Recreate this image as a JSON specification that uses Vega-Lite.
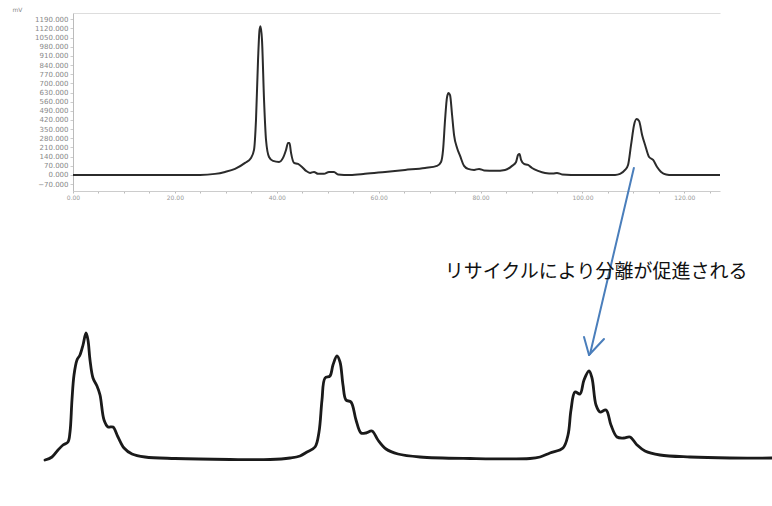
{
  "$schema": "https://vega.github.io/schema/vega-lite/v6.json",
  "width": 647,
  "height": 178,
  "autosize": {"type": "none"},
  "padding": {"left": 73, "top": 13, "right": 52, "bottom": 315},
  "background": "white",
  "config": {"view": {"stroke": null}, "font": "DejaVu Sans", "axis": {"labelOverlap": false}},
  "datasets": {
    "top": [
      {"t": 0, "mV": 0}, {"t": 24.93, "mV": 0}, {"t": 27.88, "mV": 8}, {"t": 29.84, "mV": 23},
      {"t": 31.8, "mV": 46}, {"t": 33.77, "mV": 92}, {"t": 34.94, "mV": 130}, {"t": 35.53, "mV": 191},
      {"t": 35.92, "mV": 420}, {"t": 36.32, "mV": 878}, {"t": 36.61, "mV": 1107}, {"t": 36.81, "mV": 1137},
      {"t": 37.1, "mV": 1031}, {"t": 37.5, "mV": 573}, {"t": 37.89, "mV": 267}, {"t": 38.48, "mV": 137},
      {"t": 39.26, "mV": 107}, {"t": 40.44, "mV": 99}, {"t": 41.22, "mV": 130}, {"t": 41.81, "mV": 191},
      {"t": 42.21, "mV": 244}, {"t": 42.5, "mV": 244}, {"t": 42.8, "mV": 168}, {"t": 43.39, "mV": 92},
      {"t": 44.17, "mV": 84}, {"t": 44.96, "mV": 61}, {"t": 45.74, "mV": 31}, {"t": 46.53, "mV": 15},
      {"t": 47.31, "mV": 23}, {"t": 48.1, "mV": 8}, {"t": 49.27, "mV": 8}, {"t": 50.25, "mV": 23},
      {"t": 51.24, "mV": 23}, {"t": 52.02, "mV": 4}, {"t": 54.38, "mV": 0}, {"t": 57.32, "mV": 8},
      {"t": 61.25, "mV": 23}, {"t": 65.18, "mV": 38}, {"t": 69.1, "mV": 53}, {"t": 71.46, "mV": 69},
      {"t": 72.24, "mV": 99}, {"t": 72.64, "mV": 191}, {"t": 73.03, "mV": 420}, {"t": 73.42, "mV": 595},
      {"t": 73.72, "mV": 626}, {"t": 74.01, "mV": 611}, {"t": 74.41, "mV": 458}, {"t": 74.8, "mV": 305},
      {"t": 75.39, "mV": 206}, {"t": 75.98, "mV": 145}, {"t": 76.76, "mV": 69}, {"t": 77.55, "mV": 46},
      {"t": 78.73, "mV": 38}, {"t": 79.71, "mV": 46}, {"t": 80.69, "mV": 34}, {"t": 82.85, "mV": 31},
      {"t": 84.81, "mV": 38}, {"t": 86.18, "mV": 69}, {"t": 86.97, "mV": 99}, {"t": 87.36, "mV": 153},
      {"t": 87.65, "mV": 160}, {"t": 87.95, "mV": 115}, {"t": 88.53, "mV": 84}, {"t": 89.32, "mV": 76},
      {"t": 90.1, "mV": 53}, {"t": 91.28, "mV": 31}, {"t": 92.66, "mV": 15}, {"t": 94.23, "mV": 11},
      {"t": 95.01, "mV": 15}, {"t": 96.0, "mV": 4}, {"t": 99.53, "mV": 0}, {"t": 106.4, "mV": 0},
      {"t": 107.38, "mV": 8}, {"t": 108.36, "mV": 38}, {"t": 108.95, "mV": 76}, {"t": 109.54, "mV": 229},
      {"t": 110.13, "mV": 382}, {"t": 110.62, "mV": 427}, {"t": 111.12, "mV": 412}, {"t": 111.71, "mV": 305},
      {"t": 112.3, "mV": 229}, {"t": 113.08, "mV": 137}, {"t": 113.87, "mV": 115}, {"t": 114.65, "mV": 61},
      {"t": 115.44, "mV": 23}, {"t": 116.42, "mV": 4}, {"t": 117.6, "mV": 0}, {"t": 127, "mV": 0}
    ],
    "bottom": [
      {"t": 0, "v": 0}, {"t": 0.96, "v": 3}, {"t": 1.79, "v": 10}, {"t": 2.48, "v": 15},
      {"t": 3.16, "v": 18}, {"t": 3.44, "v": 28}, {"t": 3.71, "v": 60}, {"t": 3.99, "v": 85},
      {"t": 4.4, "v": 100}, {"t": 4.81, "v": 105}, {"t": 5.23, "v": 115}, {"t": 5.64, "v": 127},
      {"t": 5.91, "v": 120}, {"t": 6.19, "v": 100}, {"t": 6.6, "v": 82}, {"t": 7.15, "v": 74},
      {"t": 7.57, "v": 65}, {"t": 8.12, "v": 40}, {"t": 8.67, "v": 33}, {"t": 9.35, "v": 33},
      {"t": 10.04, "v": 23}, {"t": 10.87, "v": 12}, {"t": 11.97, "v": 6}, {"t": 13.76, "v": 3},
      {"t": 17.88, "v": 1.5}, {"t": 25.45, "v": 0.5}, {"t": 30.95, "v": 0.5}, {"t": 33.7, "v": 2},
      {"t": 35.08, "v": 4}, {"t": 36.04, "v": 8}, {"t": 37.14, "v": 13}, {"t": 37.69, "v": 28},
      {"t": 38.1, "v": 60}, {"t": 38.52, "v": 82}, {"t": 39.2, "v": 84}, {"t": 39.61, "v": 95},
      {"t": 40.16, "v": 104}, {"t": 40.58, "v": 98}, {"t": 40.99, "v": 75}, {"t": 41.4, "v": 60},
      {"t": 42.09, "v": 58}, {"t": 42.78, "v": 40}, {"t": 43.47, "v": 27}, {"t": 44.15, "v": 27},
      {"t": 44.98, "v": 29}, {"t": 45.8, "v": 20}, {"t": 46.91, "v": 11}, {"t": 48.56, "v": 6},
      {"t": 51.58, "v": 3}, {"t": 58.46, "v": 1.5}, {"t": 66.71, "v": 1.5}, {"t": 68.09, "v": 3},
      {"t": 69.46, "v": 7}, {"t": 71.25, "v": 12}, {"t": 71.94, "v": 25}, {"t": 72.35, "v": 50},
      {"t": 72.9, "v": 68}, {"t": 73.59, "v": 66}, {"t": 74.14, "v": 80}, {"t": 74.83, "v": 89},
      {"t": 75.24, "v": 82}, {"t": 75.79, "v": 55}, {"t": 76.34, "v": 48}, {"t": 77.17, "v": 50},
      {"t": 77.85, "v": 35}, {"t": 78.68, "v": 23}, {"t": 79.64, "v": 22}, {"t": 80.47, "v": 23},
      {"t": 81.43, "v": 15}, {"t": 82.53, "v": 9}, {"t": 84.59, "v": 5}, {"t": 88.72, "v": 3},
      {"t": 94.22, "v": 2}, {"t": 100, "v": 2}
    ],
    "arrow": [
      {"t": 81.0, "v": 292, "t2": 74.97, "v2": 106},
      {"t": 74.83, "v": 105, "t2": 74.14, "v2": 123},
      {"t": 74.83, "v": 105, "t2": 76.89, "v2": 121}
    ],
    "note": [
      {"t": 75.8, "v": 188, "label": "リサイクルにより分離が促進される"}
    ]
  },
  "layer": [
    {
      "data": {"name": "top"},
      "layer": [
        {
          "mark": {"type": "line", "color": "#2b2b2b", "strokeWidth": 2, "interpolate": "monotone", "strokeJoin": "round"},
          "encoding": {
            "x": {
              "field": "t", "type": "quantitative",
              "scale": {"domain": [0, 127], "nice": false, "zero": false},
              "axis": {
                "orient": "bottom", "title": null, "grid": false,
                "values": [0,5,10,15,20,25,30,35,40,45,50,55,60,65,70,75,80,85,90,95,100,105,110,115,120,125],
                "labelExpr": "datum.value % 20 == 0 ? format(datum.value, '.2f') : ''",
                "labelFontSize": 6, "labelColor": "#999", "labelPadding": 1,
                "tickSize": 2, "tickColor": "#bbb", "domainColor": "#ccc", "labelFlush": false, "labelOverlap": false
              }
            },
            "y": {
              "field": "mV", "type": "quantitative",
              "scale": {"domain": [-123, 1238], "nice": false, "zero": false},
              "axis": {
                "orient": "left", "grid": false,
                "values": [-70,0,70,140,210,280,350,420,490,560,630,700,770,840,910,980,1050,1120,1190],
                "format": ".3f", "labelFontSize": 7, "labelColor": "#888", "labelPadding": 2,
                "labelOverlap": false, "labelFlush": false, "labelSeparation": 0,
                "tickSize": 3, "tickColor": "#ccc", "domainColor": "#bbb",
                "title": "mV", "titleAngle": 0, "titleFontSize": 6, "titleFontWeight": "normal",
                "titleColor": "#888", "titleX": -61, "titleY": -4, "titleAlign": "left", "titleBaseline": "middle"
              }
            }
          }
        },
        {
          "mark": {"type": "rule", "strokeOpacity": 0},
          "encoding": {
            "x": {
              "field": "t", "type": "quantitative",
              "axis": {"orient": "top", "title": null, "labels": false, "ticks": false, "grid": false, "domainColor": "#ddd"}
            }
          }
        }
      ]
    },
    {
      "layer": [
        {
          "data": {"name": "bottom"},
          "mark": {"type": "line", "color": "#1a1a1a", "strokeWidth": 2.8, "interpolate": "catmull-rom", "strokeJoin": "round", "strokeCap": "round"},
          "encoding": {
            "x": {"field": "t", "type": "quantitative", "scale": {"domain": [0, 100], "range": [-28, 699], "nice": false, "zero": false}, "axis": null},
            "y": {"field": "v", "type": "quantitative", "scale": {"domain": [0, 140], "range": [447, 307], "nice": false, "zero": false}, "axis": null}
          }
        },
        {
          "data": {"name": "arrow"},
          "mark": {"type": "rule", "color": "#4a7ebb", "strokeWidth": 2, "strokeCap": "round"},
          "encoding": {
            "x": {"field": "t", "type": "quantitative"},
            "x2": {"field": "t2"},
            "y": {"field": "v", "type": "quantitative"},
            "y2": {"field": "v2"}
          }
        },
        {
          "data": {"name": "note"},
          "mark": {"type": "text", "font": "Noto Sans CJK JP", "fontSize": 19, "color": "#111", "align": "center", "baseline": "middle"},
          "encoding": {
            "x": {"field": "t", "type": "quantitative"},
            "y": {"field": "v", "type": "quantitative"},
            "text": {"field": "label"}
          }
        }
      ]
    }
  ],
  "resolve": {"scale": {"x": "independent", "y": "independent"}, "axis": {"x": "independent", "y": "independent"}}
}
